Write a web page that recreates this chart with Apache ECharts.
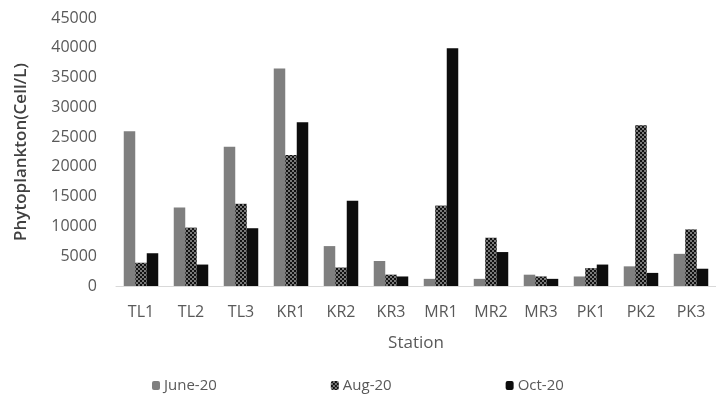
<!DOCTYPE html>
<html><head><meta charset="utf-8">
<script src="https://cdn.jsdelivr.net/npm/echarts@6/dist/echarts.min.js"></script>
<style>html,body{margin:0;padding:0;background:#fff}#c{width:716px;height:394px}</style>
</head><body><div id="c"></div>
<script>
const stations = ['TL1','TL2','TL3','KR1','KR2','KR3','MR1','MR2','MR3','PK1','PK2','PK3'];
const june20 = [26000,13200,23400,36500,6700,4200,1200,1200,1900,1600,3300,5400];
const aug20  = [3900,9800,13800,22000,3100,1900,13500,8100,1600,3000,27000,9500];
const oct20  = [5500,3600,9700,27500,14300,1600,39900,5700,1200,3600,2200,2900];
const yTicks = [0,5000,10000,15000,20000,25000,30000,35000,40000,45000];

const font = '"Open Sans", sans-serif';
const chart = echarts.init(document.getElementById('c'));
chart.setOption({
  animation: false,
  textStyle: {fontFamily: font},
  grid: {left: 116, right: -8, top: 18, bottom: 108, containLabel: false},
  legend: {
    left: 147, top: 373, itemWidth: 8, itemHeight: 9, itemGap: 114,
    textStyle: {fontFamily: font, fontSize: 15, color: '#595959', padding: [0,0,0,-1]},
    data: ['June-20','Aug-20','Oct-20']
  },
  xAxis: {
    type: 'category', data: stations,
    axisLine: {lineStyle: {color: '#d9d9d9', width: 1}},
    axisTick: {show: false},
    axisLabel: {fontFamily: font, fontSize: 16, color: '#595959', margin: 18},
    name: 'Station', nameLocation: 'middle', nameGap: 49,
    nameTextStyle: {fontFamily: font, fontSize: 17, color: '#595959'}
  },
  yAxis: {
    type: 'value', min: yTicks[0], max: yTicks[yTicks.length-1], interval: yTicks[1]-yTicks[0],
    axisLine: {show: false}, axisTick: {show: false}, splitLine: {show: false},
    axisLabel: {fontFamily: font, fontSize: 16, color: '#595959', margin: 19,
      formatter: v => String(v)},
    name: 'Phytoplankton(Cell/L)', nameLocation: 'middle', nameRotate: 90, nameGap: 86,
    nameTextStyle: {fontFamily: font, fontSize: 17, fontWeight: 600, color: '#404040'}
  },
  series: [
    {name: 'June-20', type: 'bar', data: june20, barWidth: 11.5, barGap: '0%',
     itemStyle: {color: '#7f7f7f'}},
    {name: 'Aug-20', type: 'bar', data: aug20, barWidth: 11.5, barGap: '0%',
     itemStyle: {color: '#111111', decal: {symbol: 'circle', symbolSize: 0.8, color: '#ffffff',
       dashArrayX: [[2,2],[0,2,2,0]], dashArrayY: [2,0], rotation: 0}}},
    {name: 'Oct-20', type: 'bar', data: oct20, barWidth: 11.5, barGap: '0%',
     itemStyle: {color: '#0d0d0d'}}
  ]
});
</script></body></html>
